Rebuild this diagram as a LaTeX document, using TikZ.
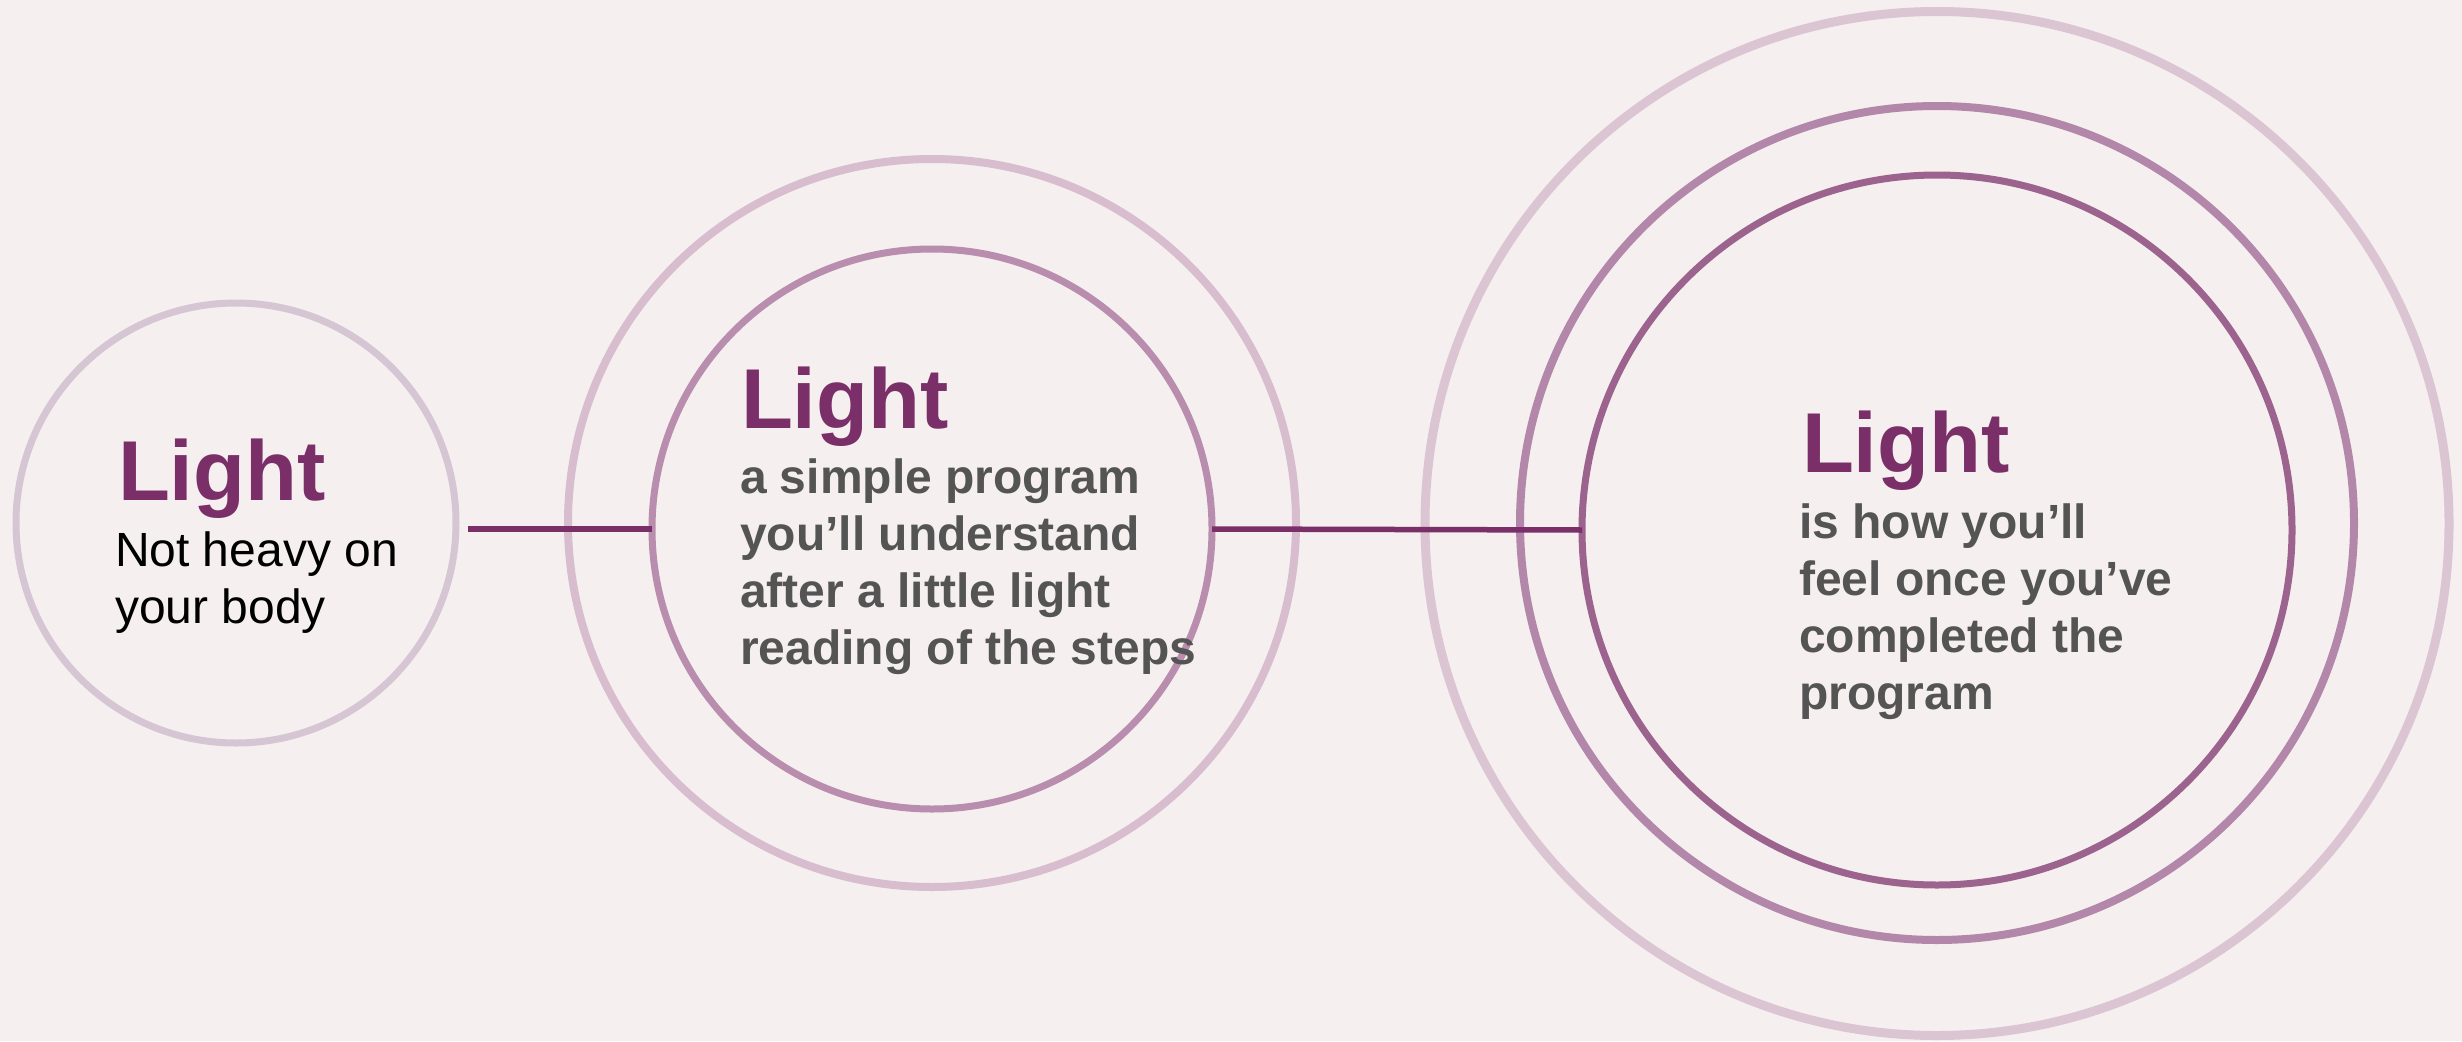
\documentclass[tikz,border=0pt]{standalone}
\usepackage{fontspec}
\setmainfont{Liberation Sans}
\definecolor{bgc}{HTML}{F5EFEF}
\definecolor{ringA}{HTML}{D6C6D3}
\definecolor{ringB}{HTML}{D7BDCE}
\definecolor{ringC}{HTML}{B98DAE}
\definecolor{ringD}{HTML}{DBC5D3}
\definecolor{ringE}{HTML}{B387A9}
\definecolor{ringF}{HTML}{9B638D}
\definecolor{plum}{HTML}{7B2F69}
\definecolor{graytext}{HTML}{545454}
\newcommand{\mylines}[1]{\begin{tabular}[t]{@{}l@{}}#1\end{tabular}}
\begin{document}
\begin{tikzpicture}[x=1pt,y=-1pt,
  ring/.style={circle, draw, fill=none, inner sep=0pt, outer sep=0pt, minimum size=#1},
  conn/.style={draw=plum, line width=5.5pt},
  titletext/.style={anchor=base west, inner sep=0pt, outer sep=0pt, text=plum,
    font=\fontsize{85}{85}\selectfont\bfseries},
  bodytext/.style={anchor=base west, inner sep=0pt, outer sep=0pt,
    font=\fontsize{48}{57}\selectfont},
  boldbody/.style={bodytext, text=graytext, font=\fontsize{48}{57}\selectfont\bfseries}]
\useasboundingbox[fill=bgc] (0,0) rectangle (2462,1041);
% circle 1
\node[ring=440pt, draw=ringA, line width=7pt] (c1) at (236,523) {};
% circle 2
\node[ring=728pt, draw=ringB, line width=8pt] (c2o) at (932,523) {};
\node[ring=560pt, draw=ringC, line width=7pt] (c2i) at (932,529) {};
% circle 3
\node[ring=1024pt, draw=ringD, line width=9pt] (c3o) at (1937,523.5) {};
\node[ring=834pt, draw=ringE, line width=8pt] (c3m) at (1937,523) {};
\node[ring=710pt, draw=ringF, line width=7pt] (c3i) at (1937,530) {};
% connectors
\coordinate (s1) at (468,529);
\draw[conn] (s1) -- (c2i.west);
\draw[conn] (c2i.east) -- (c3i.west);
% texts
\node[titletext] (t1) at (118,500) {Light};
\node[bodytext, text=black] (b1) at (115,566) {\mylines{Not heavy on\\your body}};
\node[titletext] (t2) at (741,428) {Light};
\node[boldbody] (b2) at (740,493) {\mylines{a simple program\\you’ll understand\\after a little light\\reading of the steps}};
\node[titletext] (t3) at (1802,472) {Light};
\node[boldbody] (b3) at (1799,538) {\mylines{is how you’ll\\feel once you’ve\\completed the\\program}};
\end{tikzpicture}
\end{document}
